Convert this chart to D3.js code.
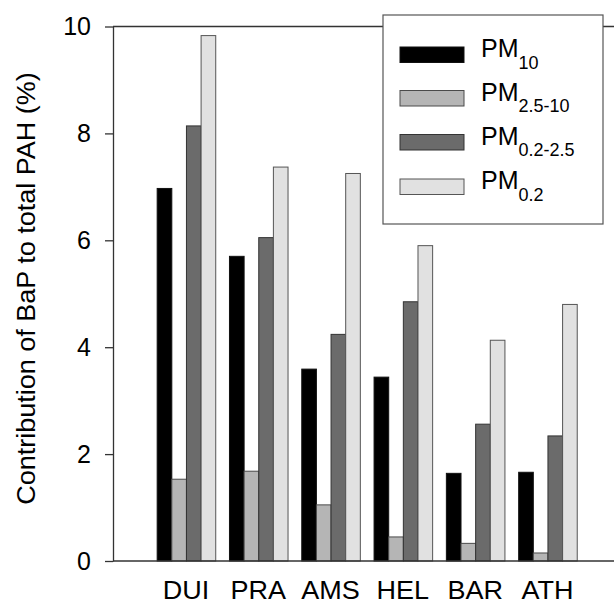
<!DOCTYPE html>
<html>
<head>
<meta charset="utf-8">
<script src="https://cdn.jsdelivr.net/npm/d3@7"></script>
<style>
  html, body { margin: 0; padding: 0; background: #fff; overflow: hidden; }
  svg { display: block; overflow: hidden; font-family: "Liberation Sans", Arial, Helvetica, sans-serif; }
</style>
</head>
<body>
<svg id="chart" width="614" height="604"></svg>
<script>
// ---- data ----
const categories = ["DUI", "PRA", "AMS", "HEL", "BAR", "ATH"];
const pm10      = [6.97, 5.70, 3.59, 3.44, 1.64, 1.66];
const pm25_10   = [1.53, 1.68, 1.05, 0.45, 0.33, 0.15];
const pm02_25   = [8.14, 6.05, 4.24, 4.85, 2.56, 2.34];
const pm02      = [9.83, 7.37, 7.25, 5.90, 4.13, 4.80];
const seriesKeys = ["pm10", "pm25_10", "pm02_25", "pm02"];
const seriesMain = ["PM", "PM", "PM", "PM"];
const seriesSub  = ["10", "2.5-10", "0.2-2.5", "0.2"];
const yTicks = [0, 2, 4, 6, 8, 10];
const yLabel = "Contribution of BaP to total PAH (%)";

(function () {
const seriesValues = { pm10, pm25_10, pm02_25, pm02 };
const fills   = { pm10: "#000000", pm25_10: "#b5b5b5", pm02_25: "#6b6b6b", pm02: "#e1e1e1" };
const strokes = { pm10: "#111111", pm25_10: "#4a4a4a", pm02_25: "#333333", pm02: "#555555" };

function stretch(sel, f) {
  sel.each(function () {
    const L = this.getComputedTextLength();
    d3.select(this).attr("textLength", L * f).attr("lengthAdjust", "spacingAndGlyphs");
  });
}

// ---- layout ----
const svg = d3.select("#chart");
const W = 614;
const mLeft = 113, mRight = 620.4, mTop = 26.5, mBottom = 561;

const x = d3.scaleBand().domain(categories).range([mLeft, mRight])
  .paddingInner(0.19).paddingOuter(0.604);
const xs = d3.scaleBand().domain(seriesKeys).range([0, x.bandwidth()]).padding(0);
const y = d3.scaleLinear().domain([0, 10]).range([mBottom, mTop]);

// bars
const groups = svg.append("g").selectAll("g")
  .data(categories).join("g")
  .attr("transform", d => `translate(${x(d)},0)`);

groups.selectAll("rect")
  .data((c, i) => seriesKeys.map(k => ({ key: k, value: seriesValues[k][i] })))
  .join("rect")
  .attr("x", d => xs(d.key) + 0.5)
  .attr("width", xs.bandwidth())
  .attr("y", d => y(d.value))
  .attr("height", d => y(0) - y(d.value))
  .attr("fill", d => fills[d.key])
  .attr("stroke", d => strokes[d.key])
  .attr("stroke-width", 1);

// frame line (top)
svg.append("line").attr("x1", mLeft).attr("x2", W).attr("y1", y(10)).attr("y2", y(10))
  .attr("stroke", "#333").attr("stroke-width", 1.3);

// y axis
const yAxis = svg.append("g").attr("transform", `translate(${mLeft},0)`)
  .call(d3.axisLeft(y).tickValues(yTicks).tickFormat(d3.format("d"))
    .tickSize(8).tickSizeOuter(0).tickPadding(14));
yAxis.select(".domain").attr("stroke", "#333").attr("stroke-width", 1.3);
yAxis.selectAll(".tick line").attr("stroke", "#333").attr("stroke-width", 1.3);
yAxis.selectAll(".tick text").attr("font-size", 25).attr("fill", "#000")
  .attr("font-family", "Liberation Sans, Arial, sans-serif");

// x axis
const xAxis = svg.append("g").attr("transform", `translate(0,${mBottom})`)
  .call(d3.axisBottom(x).tickSize(0).tickPadding(20));
xAxis.select(".domain").attr("d", `M${mLeft},0H${W}`)
  .attr("stroke", "#333").attr("stroke-width", 1.3);
xAxis.selectAll(".tick text").attr("font-size", 25).attr("fill", "#000")
  .attr("font-family", "Liberation Sans, Arial, sans-serif");
stretch(xAxis.selectAll(".tick text"), 1.08);

// y label
const yl = svg.append("text")
  .attr("transform", `translate(35,288.5) rotate(-90)`)
  .attr("text-anchor", "middle")
  .attr("font-size", 25)
  .attr("fill", "#000")
  .text(yLabel);
stretch(yl, 1.08);

// legend
const lg = svg.append("g");
lg.append("rect").attr("x", 383).attr("y", 15).attr("width", 220).attr("height", 209)
  .attr("fill", "#fff").attr("stroke", "#555").attr("stroke-width", 1.2);
const rowTop = [47, 90.5, 134.5, 179];
seriesKeys.forEach((k, i) => {
  lg.append("rect").attr("x", 400).attr("y", rowTop[i]).attr("width", 64).attr("height", 15.5)
    .attr("fill", fills[k]).attr("stroke", strokes[k]).attr("stroke-width", 1);
  const t = lg.append("text").attr("x", 481).attr("y", rowTop[i] + 10)
    .attr("font-size", 25).attr("fill", "#000");
  t.append("tspan").text(seriesMain[i]);
  t.append("tspan").attr("dy", 11.5).attr("font-size", 18).text(seriesSub[i]);
});
})();
</script>
</body>
</html>
